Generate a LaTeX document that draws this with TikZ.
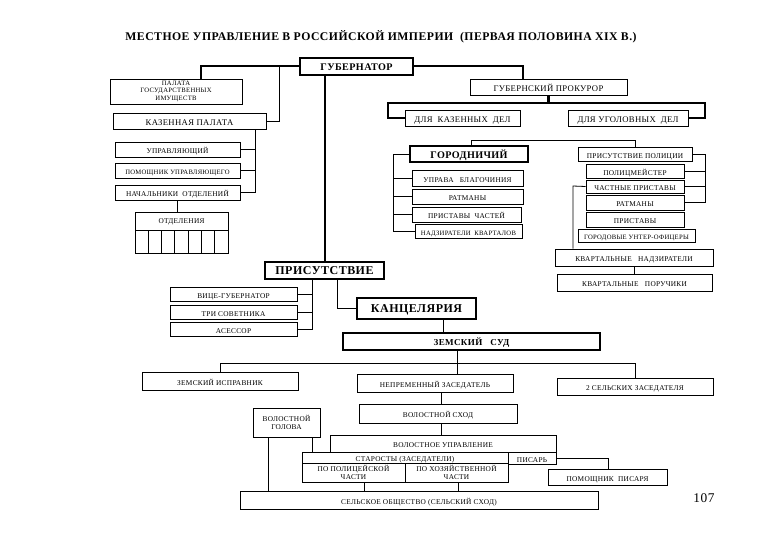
\documentclass[tikz,border=0pt]{standalone}
\usepackage{fontspec}
\setmainfont{Liberation Serif}[LetterSpace=4]
\newcommand{\cadre}[7][]{\node[boite,#1,minimum width={(#5-#3)*0.75pt},
	minimum height={(#6-#4)*0.75pt}] (#2) at ({(#3+#5)/2},{(#4+#6)/2}) {#7}}
\tikzset{
	fin/.style={line width=0.6pt},
	epais/.style={line width=2.1pt},
	boite/.style={draw,fin,inner sep=0pt,align=center,fill=white,
		text height=0.66em,text depth=0pt,
		font=\fontsize{5.5}{5.9}\selectfont},
	multi/.style={text height=,text depth=},
	petit/.style={font=\fontsize{5}{5.6}\selectfont},
	moyen/.style={font=\fontsize{6.5}{7}\selectfont},
	gras/.style={font=\bfseries\fontsize{7.6}{8}\selectfont,line width=0.9pt},
	grosgras/.style={font=\bfseries\fontsize{9}{9}\selectfont,line width=0.9pt},
}

\begin{document}
\begin{tikzpicture}[x=0.75pt,y=-0.75pt]
	\useasboundingbox[fill=white] (0,0) rectangle (780,540);
	\node[font=\bfseries\fontsize{8.8}{10}\selectfont] (titre) at (381,37)
		{МЕСТНОЕ УПРАВЛЕНИЕ В РОССИЙСКОЙ ИМПЕРИИ\ \ (ПЕРВАЯ ПОЛОВИНА XIX В.)};
	% gouverneur et chambres
	\cadre[gras]{gub}{300}{58}{413}{75}{ГУБЕРНАТОР};
	\cadre[multi,petit]{palata}{110}{79}{242}{104}{ПАЛАТА\\ГОСУДАРСТВЕННЫХ\\ИМУЩЕСТВ};
	\cadre[moyen]{kazpal}{113}{113}{266}{129}{КАЗЕННАЯ ПАЛАТА};
	\cadre{upr}{115}{142}{240}{157}{УПРАВЛЯЮЩИЙ};
	\cadre[petit]{pom}{115}{163}{240}{178}{ПОМОЩНИК УПРАВЛЯЮЩЕГО};
	\cadre{nach}{115}{185}{240}{200}{НАЧАЛЬНИКИ\ \ ОТДЕЛЕНИЙ};
	\cadre{otd}{135}{212}{228}{253}{};
	\node[font=\fontsize{5.5}{5.9}\selectfont] (otdtxt) at (181.5,221.5) {ОТДЕЛЕНИЯ};
	\draw[fin] (135,230) -- (228,230);
	\foreach \i in {1,...,6}
		\draw[fin] ({135+\i*93/7},230) -- ({135+\i*93/7},253);
	\cadre[moyen]{prok}{470}{79}{627}{95}{ГУБЕРНСКИЙ ПРОКУРОР};
	\coordinate (g1) at (201,66);
	\coordinate (g2) at (523,66);
	\draw[epais] (gub.west |- g1) -- (g1) -- (g1 |- palata.north);
	\draw[epais] (gub.east |- g2) -- (g2) -- (g2 |- prok.north);
	\coordinate (k1) at (279,66);
	\draw[fin] (k1) |- (kazpal.east);
	\coordinate (k2) at (255,129);
	\draw[fin] (k2) |- (upr.east);
	\draw[fin] (k2) |- (pom.east);
	\draw[fin] (k2) |- (nach.east);
	\draw[fin] (nach.south) -- (nach.south |- otd.north);
	% prokuror
	\cadre[moyen]{kazd}{405}{110}{520}{126}{ДЛЯ\ \ КАЗЕННЫХ\ \ ДЕЛ};
	\cadre[moyen]{ugd}{568}{110}{688}{126}{ДЛЯ УГОЛОВНЫХ\ \ ДЕЛ};
	\coordinate (p1) at (388,103);
	\coordinate (p2) at (705,103);
	\draw[epais] (prok.south) -- (prok.south |- p1);
	\draw[epais] (kazd.west) -| (p1) -- (p2) |- (ugd.east);
	% gorod
	\cadre[gras]{gor}{410}{146}{528}{162}{ГОРОДНИЧИЙ};
	\cadre{prpol}{578}{147}{692}{161}{ПРИСУТСТВИЕ ПОЛИЦИИ};
	\coordinate (h1) at (471,140);
	\coordinate (h2) at (635,140);
	\draw[fin] (gor.north -| h1) -- (h1) -- (h2) -- (h2 |- prpol.north);
	\cadre{uprava}{412}{170}{523}{186}{УПРАВА\ \ \ БЛАГОЧИНИЯ};
	\cadre{ratm}{412}{189}{523}{204}{РАТМАНЫ};
	\cadre{prch}{412}{207}{521}{222}{ПРИСТАВЫ\ \ ЧАСТЕЙ};
	\cadre[petit]{nadz}{415}{224}{522}{238}{НАДЗИРАТЕЛИ\ \ КВАРТАЛОВ};
	\coordinate (b1) at (393,154);
	\draw[fin] (gor.west) -- (b1) |- (nadz.west);
	\draw[fin] (b1) |- (uprava.west);
	\draw[fin] (b1) |- (ratm.west);
	\draw[fin] (b1) |- (prch.west);
	\cadre{polm}{586}{164}{684}{178}{ПОЛИЦМЕЙСТЕР};
	\cadre{chpr}{586}{180}{684}{193}{ЧАСТНЫЕ ПРИСТАВЫ};
	\cadre{ratmb}{586}{195}{684}{210}{РАТМАНЫ};
	\cadre{prist}{586}{212}{684}{227}{ПРИСТАВЫ};
	\cadre[petit]{gorod}{578}{229}{695}{242}{ГОРОДОВЫЕ УНТЕР-ОФИЦЕРЫ};
	\coordinate (r1) at (705,154);
	\draw[fin] (prpol.east) -- (r1) |- (ratmb.east);
	\draw[fin] (r1) |- (polm.east);
	\draw[fin] (r1) |- (chpr.east);
	\cadre{kvn}{555}{249}{713}{266}{КВАРТАЛЬНЫЕ\ \ \ НАДЗИРАТЕЛИ};
	\cadre{kvp}{557}{274}{712}{291}{КВАРТАЛЬНЫЕ\ \ \ ПОРУЧИКИ};
	\coordinate (c1) at (573,186);
	\draw[fin] (chpr.west) -- (c1) -- (c1 |- kvn.north);
	\draw[fin] (kvn.south) -- (kvn.south |- kvp.north);
	% prisutstvie
	\cadre[grosgras]{pris}{265}{262}{384}{279}{ПРИСУТСТВИЕ};
	\coordinate (v1) at (325,75);
	\draw[epais] (v1) -- (v1 |- pris.north);
	\cadre{vice}{170}{287}{297}{301}{ВИЦЕ-ГУБЕРНАТОР};
	\cadre{tri}{170}{305}{297}{319}{ТРИ СОВЕТНИКА};
	\cadre{asess}{170}{322}{297}{336}{АСЕССОР};
	\coordinate (s1) at (312,279);
	\draw[fin] (s1) |- (vice.east);
	\draw[fin] (s1) |- (tri.east);
	\draw[fin] (s1) |- (asess.east);
	\cadre[grosgras]{kanc}{357}{298}{476}{319}{КАНЦЕЛЯРИЯ};
	\coordinate (s2) at (337,279);
	\draw[fin] (s2) |- (kanc.west);
	% zemskii sud
	\cadre[gras,font=\bfseries\fontsize{6.8}{7}\selectfont]{zsud}{343}{333}{600}{350}{ЗЕМСКИЙ\ \ \ СУД};
	\coordinate (z0) at (443,319);
	\draw[fin] (z0) -- (z0 |- zsud.north);
	\cadre{zispr}{142}{372}{298}{390}{ЗЕМСКИЙ ИСПРАВНИК};
	\cadre{nepr}{357}{374}{513}{392}{НЕПРЕМЕННЫЙ ЗАСЕДАТЕЛЬ};
	\cadre{sels}{557}{378}{713}{395}{2 СЕЛЬСКИХ ЗАСЕДАТЕЛЯ};
	\coordinate (z1) at (457,350);
	\coordinate (z2) at (220,363);
	\coordinate (z3) at (635,363);
	\draw[fin] (z1) -- (z1 |- nepr.north);
	\draw[fin] (z2) -- (z3);
	\draw[fin] (z2) -- (z2 |- zispr.north);
	\draw[fin] (z3) -- (z3 |- sels.north);
	% volost
	\cadre{vskhod}{359}{404}{517}{423}{ВОЛОСТНОЙ СХОД};
	\cadre[multi]{vgol}{253}{408}{320}{437}{ВОЛОСТНОЙ\\ГОЛОВА};
	\cadre{vupr}{330}{435}{556}{452}{ВОЛОСТНОЕ УПРАВЛЕНИЕ};
	\cadre{star}{302}{452}{508}{463}{СТАРОСТЫ (ЗАСЕДАТЕЛИ)};
	\cadre{pisar}{508}{452}{556}{464}{ПИСАРЬ};
	\cadre[multi]{popol}{302}{463}{405}{482}{ПО ПОЛИЦЕЙСКОЙ\\ЧАСТИ};
	\cadre[multi]{pohoz}{405}{463}{508}{482}{ПО ХОЗЯЙСТВЕННОЙ\\ЧАСТИ};
	\cadre{pompis}{548}{469}{667}{485}{ПОМОЩНИК\ \ ПИСАРЯ};
	\cadre{sobsch}{240}{491}{598}{509}{СЕЛЬСКОЕ ОБЩЕСТВО (СЕЛЬСКИЙ СХОД)};
	\coordinate (w1) at (441,392);
	\draw[fin] (w1) -- (w1 |- vskhod.north);
	\draw[fin] (vskhod.south -| w1) -- (w1 |- vupr.north);
	\coordinate (v2) at (268,437);
	\coordinate (v3) at (312,437);
	\draw[fin] (v2) -- (v2 |- sobsch.north);
	\draw[fin] (v3) -- (v3 |- star.north);
	\coordinate (u1) at (364,482);
	\coordinate (u2) at (458,482);
	\draw[fin] (u1) -- (u1 |- sobsch.north);
	\draw[fin] (u2) -- (u2 |- sobsch.north);
	\coordinate (q1) at (608,458);
	\draw[fin] (pisar.east) -- (q1) -- (q1 |- pompis.north);
	\node[font=\fontsize{10}{12}\selectfont] (page) at (704,498) {107};
\end{tikzpicture}
\end{document}
